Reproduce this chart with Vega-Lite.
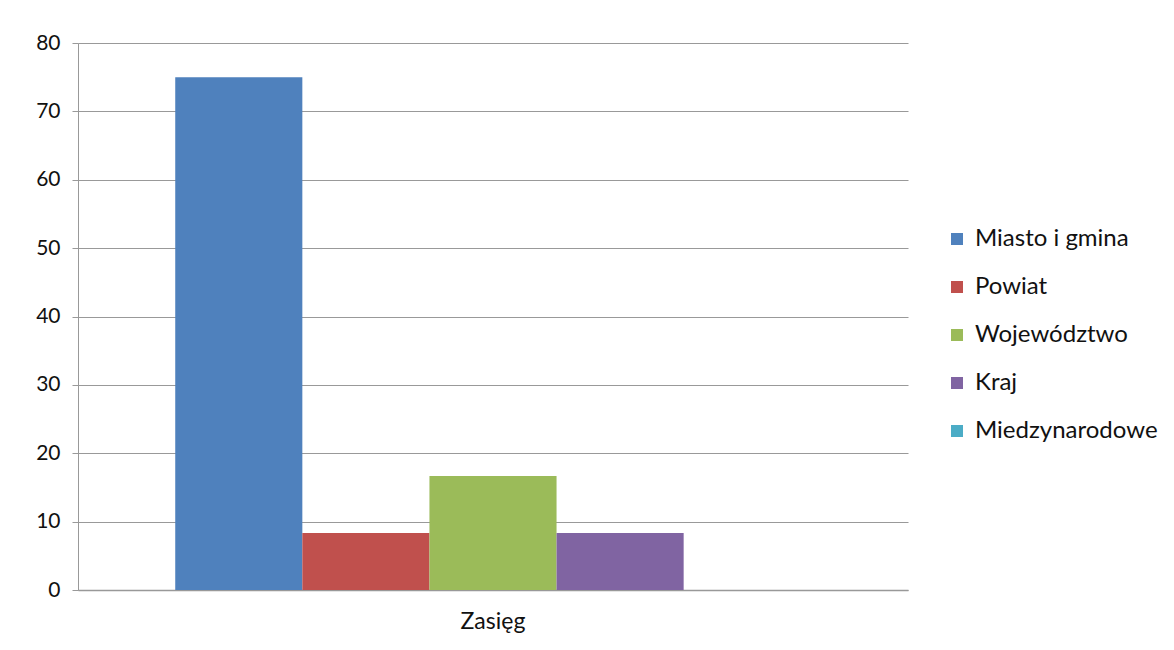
{
  "$schema": "https://vega.github.io/schema/vega-lite/v6.json",
  "autosize": {"type": "none"},
  "width": 830,
  "height": 547,
  "padding": {"left": 78, "top": 43, "right": 266, "bottom": 60},
  "background": "white",
  "config": {"view": {"stroke": null}, "font": "Lato"},
  "data": {
    "values": [
      {"kategoria": "Zasięg", "seria": "Miasto i gmina", "wartosc": 75},
      {"kategoria": "Zasięg", "seria": "Powiat", "wartosc": 8.33},
      {"kategoria": "Zasięg", "seria": "Województwo", "wartosc": 16.67},
      {"kategoria": "Zasięg", "seria": "Kraj", "wartosc": 8.33},
      {"kategoria": "Zasięg", "seria": "Miedzynarodowe", "wartosc": 0}
    ]
  },
  "mark": {"type": "bar"},
  "encoding": {
    "x": {
      "field": "kategoria",
      "type": "nominal",
      "scale": {"paddingOuter": 0.153, "paddingInner": 0},
      "axis": {
        "title": null,
        "labelAngle": 0,
        "labelFontSize": 23,
        "labelColor": "#111",
        "labelPadding": 20,
        "ticks": false,
        "domainColor": "#999",
        "domainWidth": 1.5
      }
    },
    "xOffset": {
      "field": "seria",
      "type": "nominal",
      "sort": ["Miasto i gmina", "Powiat", "Województwo", "Kraj", "Miedzynarodowe"],
      "scale": {"paddingInner": 0, "paddingOuter": 0}
    },
    "y": {
      "field": "wartosc",
      "type": "quantitative",
      "scale": {"domain": [0, 80], "nice": false},
      "axis": {
        "title": null,
        "values": [0, 10, 20, 30, 40, 50, 60, 70, 80],
        "labelFontSize": 21,
        "labelColor": "#111",
        "labelPadding": 12,
        "tickSize": 6,
        "tickColor": "#999",
        "domainColor": "#999",
        "gridColor": "#999",
        "gridWidth": 1
      }
    },
    "color": {
      "field": "seria",
      "type": "nominal",
      "scale": {
        "domain": ["Miasto i gmina", "Powiat", "Województwo", "Kraj", "Miedzynarodowe"],
        "range": ["#4F81BD", "#C0504D", "#9BBB59", "#8064A2", "#4BACC6"]
      },
      "legend": {
        "title": null,
        "orient": "none",
        "legendX": 867,
        "legendY": 184,
        "symbolType": "square",
        "symbolSize": 144,
        "symbolStrokeWidth": 0,
        "labelFontSize": 24,
        "labelLimit": 400,
        "labelColor": "#111",
        "labelOffset": 6,
        "rowPadding": 24
      }
    }
  }
}
